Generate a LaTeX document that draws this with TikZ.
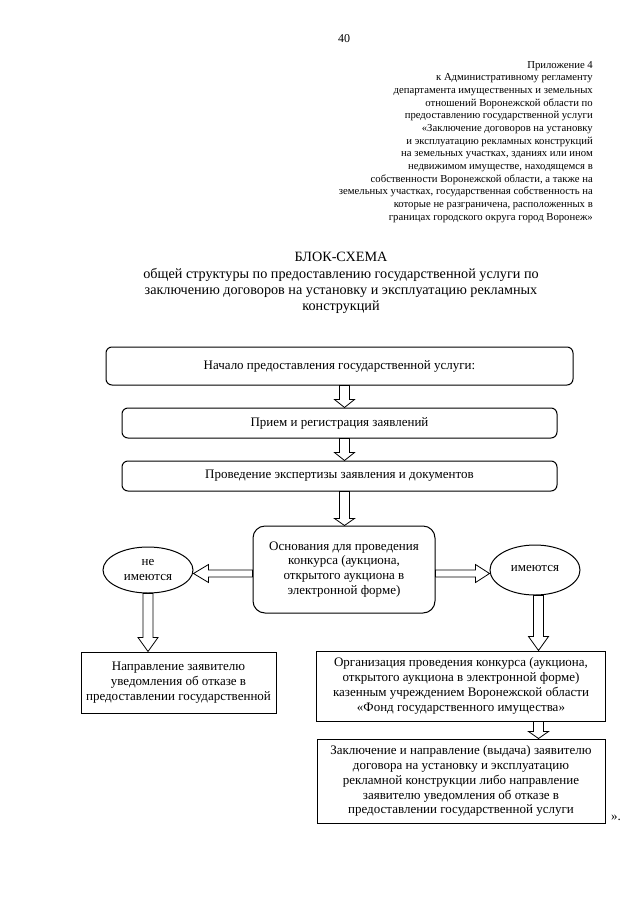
\documentclass[tikz,border=0pt]{standalone}
\usepackage{fontspec}
\setmainfont{Liberation Serif}
\usetikzlibrary{calc,shapes.geometric}
\newcommand\boxfont{\fontsize{13}{14.9}\selectfont}
\newcommand\hdrfont{\fontsize{10.7}{12.67}\selectfont}
\newcommand\ttlfont{\fontsize{14.2}{16.4}\selectfont}
\tikzset{
  rbox/.style={draw, line width=1pt, rounded corners=6pt, align=center, inner sep=0pt, font=\boxfont},
  sbox/.style={draw, line width=1pt, align=center, inner sep=0pt, font=\boxfont},
  ell/.style={draw, ellipse, line width=1pt, inner sep=0pt, align=center, font=\boxfont},
  blk/.style={draw, line width=0.8pt, fill=white, line join=miter},
}
% vertical hollow arrow: from #1 down to #2, head length #3
\newcommand\varrow[3]{%
  \draw[blk] let \p1=#1, \p2=#2 in
    (\x1-5pt,\y1) -- (\x1-5pt,\y2+#3) -- (\x1-10pt,\y2+#3) -- (\x1,\y2)
    -- (\x1+10pt,\y2+#3) -- (\x1+5pt,\y2+#3) -- (\x1+5pt,\y1) -- cycle;}
% horizontal hollow arrow pointing left
\newcommand\harrowL[3]{%
  \draw[blk] let \p1=#1, \p2=#2 in
    (\x1,\y1+3.5pt) -- (\x2+#3,\y1+3.5pt) -- (\x2+#3,\y1+9pt) -- (\x2,\y1)
    -- (\x2+#3,\y1-9pt) -- (\x2+#3,\y1-3.5pt) -- (\x1,\y1-3.5pt) -- cycle;}
% horizontal hollow arrow pointing right
\newcommand\harrowR[3]{%
  \draw[blk] let \p1=#1, \p2=#2 in
    (\x1,\y1+3.5pt) -- (\x2-#3,\y1+3.5pt) -- (\x2-#3,\y1+9pt) -- (\x2,\y1)
    -- (\x2-#3,\y1-9pt) -- (\x2-#3,\y1-3.5pt) -- (\x1,\y1-3.5pt) -- cycle;}
\begin{document}
\begin{tikzpicture}[x=1pt,y=-1pt]
\fill[white] (0,0) rectangle (640,905);
\useasboundingbox (0,0) rectangle (640,905);

\node[font=\fontsize{12}{14}\selectfont] (pg) at (344,39) {40};

\node[anchor=north east, align=right, inner sep=0pt, font=\hdrfont] (hdr) at (593,61) {%
Приложение 4\\
к Административному регламенту\\
департамента имущественных и земельных\\
отношений Воронежской области по\\
предоставлению государственной услуги\\
«Заключение договоров на установку\\
и эксплуатацию рекламных конструкций\\
на земельных участках, зданиях или ином\\
недвижимом имуществе, находящемся в\\
собственности Воронежской области, а также на\\
земельных участках, государственная собственность на\\
которые не разграничена, расположенных в\\
границах городского округа город Воронеж»};

\node[anchor=north, align=center, inner sep=0pt, font=\ttlfont] (ttl) at (341,252) {%
БЛОК-СХЕМА\\
общей структуры по предоставлению государственной услуги по\\
заключению договоров на установку и эксплуатацию рекламных\\
конструкций};

\coordinate (colM) at (344.5,0);
\coordinate (colR) at (538.5,0);
\coordinate (rowH) at (0,573.5);

\node[rbox, minimum width=467pt, minimum height=38pt] (b1) at (339.5,366)
  {Начало предоставления государственной услуги:};
\node[rbox, minimum width=435pt, minimum height=30pt] (b2) at (339.5,423)
  {Прием и регистрация заявлений};
\node[rbox, minimum width=435pt, minimum height=30pt] (b3) at (339.5,476)
  {Проведение экспертизы заявления и документов};
\node[rbox, rounded corners=12pt, minimum width=182pt, minimum height=87pt] (b4) at (344,569.5)
  {Основания для проведения\\конкурса (аукциона,\\открытого аукциона в\\электронной форме)};
\node[ell, minimum width=90pt, minimum height=46pt] (e1) at (148,570)
  {не\\имеются};
\node[ell, minimum width=90pt, minimum height=50pt] (e2) at (535,570)
  {\raisebox{4pt}{имеются}};
\node[sbox, minimum width=195pt, minimum height=61pt] (b5) at (178.5,682.5)
  {Направление заявителю\\уведомления об отказе в\\предоставлении государственной};
\node[sbox, minimum width=289pt, minimum height=70pt] (b6) at (461,686)
  {Организация проведения конкурса (аукциона,\\открытого аукциона в электронной форме)\\казенным учреждением Воронежской области\\«Фонд государственного имущества»};
\node[sbox, minimum width=288pt, minimum height=84pt] (b7) at (461,781)
  {Заключение и направление (выдача) заявителю\\договора на установку и эксплуатацию\\рекламной конструкции либо направление\\заявителю уведомления об отказе в\\предоставлении государственной услуги};
\node[anchor=west, inner sep=0pt, font=\boxfont] (qt) at (611,818) {».};

\varrow{(b1.south -| colM)}{(b2.north -| colM)}{8pt}
\varrow{(b2.south -| colM)}{(b3.north -| colM)}{8pt}
\varrow{(b3.south -| colM)}{(b4.north -| colM)}{7pt}
\harrowL{(b4.west |- rowH)}{(e1.east |- rowH)}{15pt}
\harrowR{(b4.east |- rowH)}{(e2.west |- rowH)}{14pt}
\varrow{(e1.south)}{(b5.north -| e1.south)}{14pt}
\varrow{(e2.south -| colR)}{(b6.north -| colR)}{14pt}
\varrow{(b6.south -| colR)}{(b7.north -| colR)}{7pt}
\end{tikzpicture}
\end{document}
